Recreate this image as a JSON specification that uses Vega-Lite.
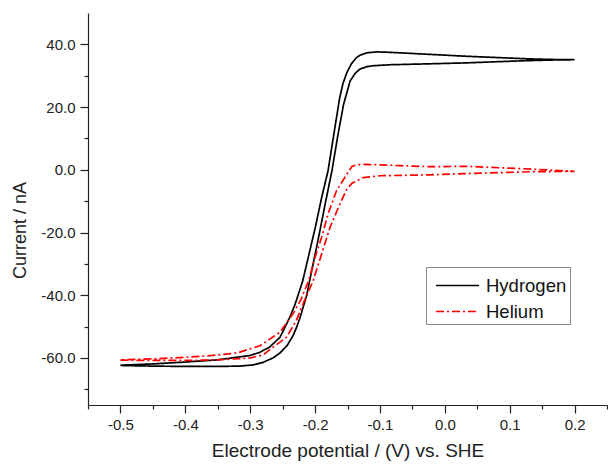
{
  "$schema": "https://vega.github.io/schema/vega-lite/v6.json",
  "width": 519,
  "height": 392,
  "autosize": {"type": "none"},
  "padding": {"left": 88, "top": 13, "right": 1, "bottom": 61},
  "background": "white",
  "config": {
    "view": {"stroke": null},
    "font": "Liberation Sans",
    "axis": {
      "labelFont": "Liberation Sans",
      "titleFont": "Liberation Sans",
      "labelFontSize": 15,
      "titleFontSize": 18,
      "titleFontWeight": "normal",
      "labelColor": "#222222",
      "titleColor": "#222222",
      "domainColor": "#222222",
      "tickColor": "#222222",
      "domainWidth": 1.2,
      "tickWidth": 1.2,
      "grid": false
    },
    "legend": {
      "labelFont": "Liberation Sans",
      "titleFont": "Liberation Sans"
    }
  },
  "datasets": {
    "cv": [
      {"g": "Hydrogen", "i": 1, "v": -0.5, "c": -62.4},
      {"g": "Hydrogen", "i": 2, "v": -0.45, "c": -62.6},
      {"g": "Hydrogen", "i": 3, "v": -0.4, "c": -62.7},
      {"g": "Hydrogen", "i": 4, "v": -0.35, "c": -62.7},
      {"g": "Hydrogen", "i": 5, "v": -0.316, "c": -62.6},
      {"g": "Hydrogen", "i": 6, "v": -0.295, "c": -62.2},
      {"g": "Hydrogen", "i": 7, "v": -0.28, "c": -61.4},
      {"g": "Hydrogen", "i": 8, "v": -0.265, "c": -60.0},
      {"g": "Hydrogen", "i": 9, "v": -0.254, "c": -58.4},
      {"g": "Hydrogen", "i": 10, "v": -0.243, "c": -56.0},
      {"g": "Hydrogen", "i": 11, "v": -0.234, "c": -52.9},
      {"g": "Hydrogen", "i": 12, "v": -0.228, "c": -50.0},
      {"g": "Hydrogen", "i": 13, "v": -0.223, "c": -47.0},
      {"g": "Hydrogen", "i": 14, "v": -0.213, "c": -40.1},
      {"g": "Hydrogen", "i": 15, "v": -0.205, "c": -32.0},
      {"g": "Hydrogen", "i": 16, "v": -0.195, "c": -22.0},
      {"g": "Hydrogen", "i": 17, "v": -0.185, "c": -11.5},
      {"g": "Hydrogen", "i": 18, "v": -0.174, "c": -0.3},
      {"g": "Hydrogen", "i": 19, "v": -0.165, "c": 10.8},
      {"g": "Hydrogen", "i": 20, "v": -0.156, "c": 20.9},
      {"g": "Hydrogen", "i": 21, "v": -0.146, "c": 28.3},
      {"g": "Hydrogen", "i": 22, "v": -0.138, "c": 30.8},
      {"g": "Hydrogen", "i": 23, "v": -0.131, "c": 32.1},
      {"g": "Hydrogen", "i": 24, "v": -0.12, "c": 32.9},
      {"g": "Hydrogen", "i": 25, "v": -0.11, "c": 33.2},
      {"g": "Hydrogen", "i": 26, "v": -0.084, "c": 33.5},
      {"g": "Hydrogen", "i": 27, "v": -0.023, "c": 33.8},
      {"g": "Hydrogen", "i": 28, "v": 0.034, "c": 34.1},
      {"g": "Hydrogen", "i": 29, "v": 0.085, "c": 34.5},
      {"g": "Hydrogen", "i": 30, "v": 0.127, "c": 34.8},
      {"g": "Hydrogen", "i": 31, "v": 0.165, "c": 35.0},
      {"g": "Hydrogen", "i": 32, "v": 0.2, "c": 35.1},
      {"g": "Hydrogen", "i": 33, "v": 0.16, "c": 35.2},
      {"g": "Hydrogen", "i": 34, "v": 0.127, "c": 35.4},
      {"g": "Hydrogen", "i": 35, "v": 0.08, "c": 35.8},
      {"g": "Hydrogen", "i": 36, "v": 0.034, "c": 36.2},
      {"g": "Hydrogen", "i": 37, "v": -0.023, "c": 36.8},
      {"g": "Hydrogen", "i": 38, "v": -0.069, "c": 37.3},
      {"g": "Hydrogen", "i": 39, "v": -0.09, "c": 37.5},
      {"g": "Hydrogen", "i": 40, "v": -0.105, "c": 37.6},
      {"g": "Hydrogen", "i": 41, "v": -0.12, "c": 37.3},
      {"g": "Hydrogen", "i": 42, "v": -0.13, "c": 36.6},
      {"g": "Hydrogen", "i": 43, "v": -0.136, "c": 35.8},
      {"g": "Hydrogen", "i": 44, "v": -0.144, "c": 33.8},
      {"g": "Hydrogen", "i": 45, "v": -0.151, "c": 31.0},
      {"g": "Hydrogen", "i": 46, "v": -0.157, "c": 27.5},
      {"g": "Hydrogen", "i": 47, "v": -0.162, "c": 23.0},
      {"g": "Hydrogen", "i": 48, "v": -0.169, "c": 14.0},
      {"g": "Hydrogen", "i": 49, "v": -0.18, "c": -0.3},
      {"g": "Hydrogen", "i": 50, "v": -0.19, "c": -9.0},
      {"g": "Hydrogen", "i": 51, "v": -0.199, "c": -17.8},
      {"g": "Hydrogen", "i": 52, "v": -0.21, "c": -27.5},
      {"g": "Hydrogen", "i": 53, "v": -0.219, "c": -35.4},
      {"g": "Hydrogen", "i": 54, "v": -0.223, "c": -38.0},
      {"g": "Hydrogen", "i": 55, "v": -0.231, "c": -43.0},
      {"g": "Hydrogen", "i": 56, "v": -0.239, "c": -47.1},
      {"g": "Hydrogen", "i": 57, "v": -0.254, "c": -53.4},
      {"g": "Hydrogen", "i": 58, "v": -0.27, "c": -56.5},
      {"g": "Hydrogen", "i": 59, "v": -0.285, "c": -58.2},
      {"g": "Hydrogen", "i": 60, "v": -0.3, "c": -59.2},
      {"g": "Hydrogen", "i": 61, "v": -0.35, "c": -60.6},
      {"g": "Hydrogen", "i": 62, "v": -0.4, "c": -61.3},
      {"g": "Hydrogen", "i": 63, "v": -0.45, "c": -61.9},
      {"g": "Hydrogen", "i": 64, "v": -0.5, "c": -62.3},
      {"g": "Helium", "i": 1, "v": -0.5, "c": -60.7},
      {"g": "Helium", "i": 2, "v": -0.45, "c": -60.8},
      {"g": "Helium", "i": 3, "v": -0.4, "c": -60.8},
      {"g": "Helium", "i": 4, "v": -0.35, "c": -60.6},
      {"g": "Helium", "i": 5, "v": -0.3, "c": -60.0},
      {"g": "Helium", "i": 6, "v": -0.28, "c": -59.0},
      {"g": "Helium", "i": 7, "v": -0.265, "c": -56.6},
      {"g": "Helium", "i": 8, "v": -0.244, "c": -53.4},
      {"g": "Helium", "i": 9, "v": -0.229, "c": -48.1},
      {"g": "Helium", "i": 10, "v": -0.217, "c": -42.0},
      {"g": "Helium", "i": 11, "v": -0.203, "c": -35.4},
      {"g": "Helium", "i": 12, "v": -0.19, "c": -26.9},
      {"g": "Helium", "i": 13, "v": -0.177, "c": -18.4},
      {"g": "Helium", "i": 14, "v": -0.164, "c": -12.0},
      {"g": "Helium", "i": 15, "v": -0.151, "c": -6.1},
      {"g": "Helium", "i": 16, "v": -0.143, "c": -4.3},
      {"g": "Helium", "i": 17, "v": -0.126, "c": -2.5},
      {"g": "Helium", "i": 18, "v": -0.1, "c": -1.9},
      {"g": "Helium", "i": 19, "v": -0.023, "c": -1.6},
      {"g": "Helium", "i": 20, "v": 0.034, "c": -1.2},
      {"g": "Helium", "i": 21, "v": 0.136, "c": -0.6},
      {"g": "Helium", "i": 22, "v": 0.2, "c": -0.5},
      {"g": "Helium", "i": 23, "v": 0.136, "c": 0.2},
      {"g": "Helium", "i": 24, "v": 0.034, "c": 1.1},
      {"g": "Helium", "i": 25, "v": -0.023, "c": 1.0},
      {"g": "Helium", "i": 26, "v": -0.069, "c": 1.3},
      {"g": "Helium", "i": 27, "v": -0.1, "c": 1.6},
      {"g": "Helium", "i": 28, "v": -0.125, "c": 1.7},
      {"g": "Helium", "i": 29, "v": -0.136, "c": 1.6},
      {"g": "Helium", "i": 30, "v": -0.143, "c": 1.1},
      {"g": "Helium", "i": 31, "v": -0.151, "c": -1.4},
      {"g": "Helium", "i": 32, "v": -0.167, "c": -6.7},
      {"g": "Helium", "i": 33, "v": -0.18, "c": -14.1},
      {"g": "Helium", "i": 34, "v": -0.19, "c": -21.6},
      {"g": "Helium", "i": 35, "v": -0.2, "c": -27.9},
      {"g": "Helium", "i": 36, "v": -0.21, "c": -35.4},
      {"g": "Helium", "i": 37, "v": -0.222, "c": -41.5},
      {"g": "Helium", "i": 38, "v": -0.234, "c": -45.9},
      {"g": "Helium", "i": 39, "v": -0.254, "c": -51.8},
      {"g": "Helium", "i": 40, "v": -0.285, "c": -56.1},
      {"g": "Helium", "i": 41, "v": -0.32, "c": -58.4},
      {"g": "Helium", "i": 42, "v": -0.358, "c": -59.2},
      {"g": "Helium", "i": 43, "v": -0.4, "c": -59.8},
      {"g": "Helium", "i": 44, "v": -0.45, "c": -60.3},
      {"g": "Helium", "i": 45, "v": -0.5, "c": -60.6}
    ],
    "minor": [
      {"mx": -0.45, "my": -70}, {"mx": -0.35, "my": -50}, {"mx": -0.25, "my": -30},
      {"mx": -0.15, "my": -10}, {"mx": -0.05, "my": 10}, {"mx": 0.05, "my": 30},
      {"mx": 0.15, "my": -70}
    ]
  },
  "layer": [
    {
      "data": {"name": "minor"},
      "mark": {"type": "point", "opacity": 0},
      "encoding": {
        "x": {"field": "mx", "type": "quantitative",
          "scale": {"domain": [-0.55, 0.25], "nice": false, "zero": false},
          "axis": {"orient": "bottom", "values": [-0.55, -0.45, -0.35, -0.25, -0.15, -0.05, 0.05, 0.15, 0.25], "labels": false, "domain": false, "tickSize": 4, "title": null}},
        "y": {"field": "my", "type": "quantitative",
          "scale": {"domain": [-75, 50], "nice": false, "zero": false},
          "axis": {"orient": "left", "values": [-70, -50, -30, -10, 10, 30], "labels": false, "domain": false, "tickSize": 4, "title": null}}
      }
    },
    {
      "mark": {"type": "rule", "color": "#777777", "strokeWidth": 1.2},
      "encoding": {"y": {"datum": 50, "axis": null}}
    },
    {
      "data": {"name": "cv"},
      "mark": {"type": "line", "strokeWidth": 1.7, "clip": true},
      "encoding": {
        "x": {"field": "v", "type": "quantitative",
          "scale": {"domain": [-0.55, 0.25], "nice": false, "zero": false},
          "axis": {"orient": "bottom", "title": "Electrode potential / (V) vs. SHE", "titleFontSize": 19, "values": [-0.5, -0.4, -0.3, -0.2, -0.1, 0, 0.1, 0.2], "format": ".1f", "labelExpr": "replace(datum.label, '\u2212', '-')", "tickSize": 8, "labelPadding": 4, "titlePadding": 9}},
        "y": {"field": "c", "type": "quantitative",
          "scale": {"domain": [-75, 50], "nice": false, "zero": false},
          "axis": {"orient": "left", "title": "Current / nA", "titleFontSize": 18, "titleY": 217, "values": [-60, -40, -20, 0, 20, 40], "format": ".1f", "labelExpr": "replace(datum.label, '\u2212', '-')", "tickSize": 8, "labelPadding": 5, "titlePadding": 11}},
        "color": {"field": "g", "type": "nominal",
          "scale": {"domain": ["Hydrogen", "Helium"], "range": ["#000000", "#ff0000"]},
          "legend": {"title": " ", "titleFontSize": 9, "titlePadding": 0, "orient": "none", "legendX": 338, "legendY": 254, "padding": 3, "strokeColor": "#888888", "fillColor": "#ffffff", "symbolType": "stroke", "symbolSize": 1849, "symbolStrokeWidth": 1.7, "clipHeight": 13, "labelFontSize": 18.5, "labelColor": "#111111", "labelOffset": 6, "rowPadding": 7, "symbolOffset": 6}},
        "strokeDash": {"field": "g", "type": "nominal",
          "scale": {"domain": ["Hydrogen", "Helium"], "range": [[1, 0], [8, 3, 2, 3]]},
          "legend": {"title": " ", "titleFontSize": 9, "titlePadding": 0, "orient": "none", "legendX": 338, "legendY": 254, "padding": 3, "strokeColor": "#888888", "fillColor": "#ffffff", "symbolType": "stroke", "symbolSize": 1849, "symbolStrokeWidth": 1.7, "clipHeight": 13, "labelFontSize": 18.5, "labelColor": "#111111", "labelOffset": 6, "rowPadding": 7, "symbolOffset": 6}},
        "order": {"field": "i", "type": "quantitative"}
      }
    }
  ],
  "resolve": {"axis": {"x": "independent", "y": "independent"}}
}
